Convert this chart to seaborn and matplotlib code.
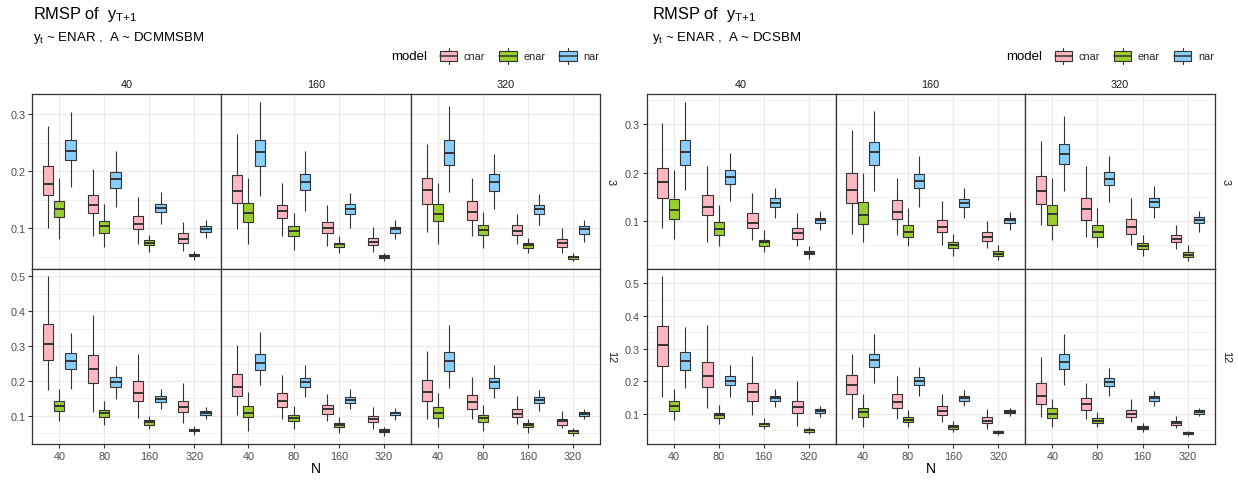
import numpy as np
import pandas as pd
import matplotlib
matplotlib.use("Agg")
import matplotlib.pyplot as plt
import seaborn as sns
from matplotlib.ticker import MultipleLocator, FuncFormatter
from matplotlib.legend_handler import HandlerBase
from matplotlib.patches import Rectangle, Patch
from matplotlib.lines import Line2D

# ---------------------------------------------------------------------------
# categories
N_LEVELS = ["40", "80", "160", "320"]
MODELS = ["cnar", "enar", "nar"]
COL_LEVELS = ["40", "160", "320"]
ROW_LEVELS = ["3", "12"]
PALETTE = {"cnar": "#FFB6C1", "enar": "#9ACD32", "nar": "#87CEFA"}

# five-number summaries (min, q1, median, q3, max) of RMSP, one tuple per N
# --- y_t ~ ENAR, A ~ DCMMSBM ---
dcmm_3_40 = {
    "cnar": [(0.100, 0.159, 0.178, 0.209, 0.280), (0.086, 0.126, 0.140, 0.158, 0.204),
             (0.072, 0.098, 0.107, 0.121, 0.155), (0.061, 0.074, 0.081, 0.091, 0.111)],
    "enar": [(0.082, 0.119, 0.134, 0.147, 0.188), (0.067, 0.092, 0.1035, 0.112, 0.142),
             (0.059, 0.071, 0.075, 0.080, 0.089), (0.045, 0.051, 0.0535, 0.055, 0.061)],
    "nar": [(0.173, 0.220, 0.236, 0.255, 0.304), (0.138, 0.171, 0.186, 0.198, 0.236),
            (0.107, 0.128, 0.136, 0.142, 0.164), (0.0835, 0.094, 0.099, 0.1035, 0.115)],
}
dcmm_3_160 = {
    "cnar": [(0.099, 0.145, 0.165, 0.193, 0.266), (0.087, 0.118, 0.131, 0.141, 0.179),
             (0.069, 0.091, 0.100, 0.111, 0.140), (0.059, 0.071, 0.0765, 0.0835, 0.102)],
    "enar": [(0.073, 0.111, 0.127, 0.1435, 0.189), (0.062, 0.087, 0.095, 0.1035, 0.127),
             (0.0565, 0.067, 0.072, 0.075, 0.086), (0.0435, 0.048, 0.0506, 0.053, 0.0565)],
    "nar": [(0.156, 0.209, 0.233, 0.255, 0.322), (0.131, 0.167, 0.182, 0.195, 0.235),
            (0.100, 0.125, 0.134, 0.142, 0.162), (0.081, 0.092, 0.099, 0.102, 0.114)],
}
dcmm_3_320 = {
    "cnar": [(0.094, 0.142, 0.167, 0.188, 0.247), (0.087, 0.115, 0.128, 0.147, 0.188),
             (0.073, 0.089, 0.095, 0.105, 0.125), (0.0576, 0.068, 0.075, 0.081, 0.100)],
    "enar": [(0.072, 0.113, 0.125, 0.142, 0.180), (0.066, 0.088, 0.0965, 0.105, 0.128),
             (0.0576, 0.066, 0.0706, 0.074, 0.0835), (0.0435, 0.047, 0.050, 0.052, 0.0565)],
    "nar": [(0.1635, 0.211, 0.232, 0.254, 0.315), (0.134, 0.166, 0.182, 0.195, 0.231),
            (0.106, 0.125, 0.133, 0.140, 0.161), (0.0765, 0.0906, 0.098, 0.1035, 0.114)],
}
dcmm_12_40 = {
    "cnar": [(0.173, 0.260, 0.305, 0.3635, 0.500), (0.110, 0.194, 0.235, 0.275, 0.390),
             (0.094, 0.144, 0.167, 0.200, 0.279), (0.081, 0.110, 0.125, 0.144, 0.194)],
    "enar": [(0.0865, 0.115, 0.129, 0.142, 0.177), (0.073, 0.098, 0.108, 0.117, 0.142),
             (0.0635, 0.075, 0.083, 0.0885, 0.100), (0.046, 0.056, 0.0606, 0.0635, 0.071)],
    "nar": [(0.177, 0.235, 0.258, 0.281, 0.338), (0.148, 0.183, 0.198, 0.2115, 0.244),
            (0.119, 0.1385, 0.148, 0.156, 0.177), (0.090, 0.102, 0.1087, 0.1135, 0.125)],
}
dcmm_12_160 = {
    "cnar": [(0.102, 0.156, 0.183, 0.219, 0.302), (0.092, 0.125, 0.144, 0.165, 0.217),
             (0.0846, 0.106, 0.119, 0.131, 0.1615), (0.0615, 0.0827, 0.092, 0.100, 0.125)],
    "enar": [(0.0577, 0.098, 0.1096, 0.127, 0.169), (0.0615, 0.0846, 0.094, 0.104, 0.129),
             (0.052, 0.069, 0.075, 0.081, 0.096), (0.0423, 0.053, 0.0577, 0.0615, 0.067)],
    "nar": [(0.190, 0.233, 0.252, 0.277, 0.340), (0.154, 0.183, 0.198, 0.2096, 0.246),
            (0.119, 0.1365, 0.146, 0.154, 0.177), (0.0885, 0.102, 0.107, 0.1115, 0.123)],
}
dcmm_12_320 = {
    "cnar": [(0.092, 0.142, 0.169, 0.202, 0.2865), (0.090, 0.121, 0.140, 0.160, 0.2115),
             (0.077, 0.096, 0.106, 0.121, 0.158), (0.0654, 0.075, 0.0846, 0.092, 0.115)],
    "enar": [(0.067, 0.094, 0.1096, 0.125, 0.165), (0.0577, 0.0827, 0.094, 0.104, 0.131),
             (0.052, 0.067, 0.073, 0.079, 0.092), (0.0423, 0.050, 0.0558, 0.0596, 0.0654)],
    "nar": [(0.181, 0.229, 0.258, 0.283, 0.360), (0.152, 0.181, 0.196, 0.208, 0.246),
            (0.115, 0.1365, 0.146, 0.154, 0.175), (0.090, 0.100, 0.1058, 0.1106, 0.121)],
}
# --- y_t ~ ENAR, A ~ DCSBM ---
dcsbm_3_40 = {
    "cnar": [(0.086, 0.148, 0.180, 0.210, 0.303), (0.056, 0.112, 0.130, 0.154, 0.213),
             (0.061, 0.085, 0.097, 0.1166, 0.158), (0.049, 0.064, 0.075, 0.086, 0.1166)],
    "enar": [(0.063, 0.104, 0.1235, 0.1455, 0.205), (0.049, 0.072, 0.0834, 0.0986, 0.133),
             (0.0366, 0.049, 0.056, 0.061, 0.082), (0.0228, 0.0324, 0.035, 0.039, 0.049)],
    "nar": [(0.165, 0.216, 0.242, 0.268, 0.347), (0.141, 0.176, 0.191, 0.206, 0.241),
            (0.107, 0.130, 0.137, 0.147, 0.169), (0.082, 0.096, 0.1028, 0.107, 0.1207)],
}
dcsbm_3_160 = {
    "cnar": [(0.074, 0.137, 0.165, 0.199, 0.289), (0.0724, 0.104, 0.118, 0.143, 0.1897),
             (0.050, 0.0766, 0.0876, 0.1028, 0.141), (0.0448, 0.0586, 0.067, 0.0766, 0.100)],
    "enar": [(0.056, 0.0945, 0.1124, 0.1386, 0.199), (0.049, 0.067, 0.078, 0.0917, 0.1276),
             (0.028, 0.0448, 0.0517, 0.0572, 0.074), (0.020, 0.027, 0.0324, 0.038, 0.0517)],
    "nar": [(0.162, 0.217, 0.2434, 0.263, 0.3276), (0.130, 0.169, 0.184, 0.1966, 0.234),
            (0.107, 0.129, 0.137, 0.1455, 0.1676), (0.082, 0.096, 0.1014, 0.107, 0.119)],
}
dcsbm_3_320 = {
    "cnar": [(0.092, 0.1345, 0.162, 0.1924, 0.2655), (0.067, 0.1014, 0.1248, 0.148, 0.2145),
             (0.0517, 0.074, 0.0876, 0.1055, 0.147), (0.0434, 0.056, 0.0628, 0.071, 0.0917)],
    "enar": [(0.061, 0.093, 0.114, 0.133, 0.1897), (0.046, 0.067, 0.078, 0.0917, 0.1276),
             (0.028, 0.042, 0.049, 0.0545, 0.0724), (0.0186, 0.0255, 0.031, 0.0366, 0.050)],
    "nar": [(0.162, 0.2186, 0.239, 0.2586, 0.3166), (0.140, 0.1745, 0.188, 0.2007, 0.234),
            (0.107, 0.130, 0.1386, 0.147, 0.1717), (0.078, 0.096, 0.1014, 0.108, 0.1207)],
}
dcsbm_12_40 = {
    "cnar": [(0.153, 0.2477, 0.311, 0.369, 0.5205), (0.1185, 0.184, 0.217, 0.260, 0.373),
             (0.098, 0.141, 0.1677, 0.1964, 0.2785), (0.065, 0.102, 0.1226, 0.141, 0.2005)],
    "enar": [(0.0815, 0.110, 0.1246, 0.139, 0.176), (0.069, 0.088, 0.096, 0.104, 0.1267),
             (0.053, 0.065, 0.069, 0.0733, 0.0877), (0.0405, 0.0467, 0.0508, 0.0549, 0.061)],
    "nar": [(0.180, 0.2354, 0.262, 0.2887, 0.3646), (0.151, 0.188, 0.2026, 0.215, 0.2497),
            (0.1205, 0.141, 0.149, 0.155, 0.178), (0.0918, 0.104, 0.110, 0.1144, 0.1246)],
}
dcsbm_12_160 = {
    "cnar": [(0.085, 0.160, 0.190, 0.220, 0.285), (0.085, 0.120, 0.138, 0.160, 0.215),
             (0.075, 0.098, 0.110, 0.125, 0.160), (0.055, 0.072, 0.080, 0.090, 0.115)],
    "enar": [(0.060, 0.090, 0.105, 0.120, 0.160), (0.060, 0.075, 0.083, 0.092, 0.112),
             (0.045, 0.055, 0.060, 0.066, 0.078), (0.035, 0.041, 0.044, 0.047, 0.052)],
    "nar": [(0.195, 0.245, 0.265, 0.285, 0.345), (0.155, 0.188, 0.200, 0.213, 0.245),
            (0.125, 0.141, 0.148, 0.155, 0.175), (0.095, 0.102, 0.107, 0.112, 0.120)],
}
dcsbm_12_320 = {
    "cnar": [(0.090, 0.130, 0.155, 0.195, 0.275), (0.085, 0.112, 0.130, 0.148, 0.195),
             (0.075, 0.090, 0.100, 0.112, 0.145), (0.058, 0.067, 0.073, 0.080, 0.095)],
    "enar": [(0.060, 0.088, 0.100, 0.118, 0.145), (0.060, 0.072, 0.080, 0.088, 0.105),
             (0.045, 0.053, 0.058, 0.063, 0.072), (0.033, 0.038, 0.042, 0.045, 0.048)],
    "nar": [(0.190, 0.238, 0.260, 0.285, 0.345), (0.155, 0.185, 0.197, 0.210, 0.240),
            (0.125, 0.140, 0.148, 0.155, 0.172), (0.095, 0.101, 0.106, 0.111, 0.120)],
}

PANELS = {
    ("DCMMSBM", "3", "40"): dcmm_3_40, ("DCMMSBM", "3", "160"): dcmm_3_160,
    ("DCMMSBM", "3", "320"): dcmm_3_320, ("DCMMSBM", "12", "40"): dcmm_12_40,
    ("DCMMSBM", "12", "160"): dcmm_12_160, ("DCMMSBM", "12", "320"): dcmm_12_320,
    ("DCSBM", "3", "40"): dcsbm_3_40, ("DCSBM", "3", "160"): dcsbm_3_160,
    ("DCSBM", "3", "320"): dcsbm_3_320, ("DCSBM", "12", "40"): dcsbm_12_40,
    ("DCSBM", "12", "160"): dcsbm_12_160, ("DCSBM", "12", "320"): dcsbm_12_320,
}

records = []
for (network, k, col), table in PANELS.items():
    for model in MODELS:
        for n, five in zip(N_LEVELS, table[model]):
            for v in five:
                records.append({"network": network, "k": k, "col": col,
                                "N": n, "model": model, "value": v})
df = pd.DataFrame(records)

# ---------------------------------------------------------------------------
sns.set_theme(style="white")
plt.rcParams["font.family"] = ["Liberation Sans", "DejaVu Sans"]
plt.rcParams["mathtext.default"] = "regular"

W, H = 1238, 481
fig = plt.figure(figsize=(W / 100, H / 100), dpi=100, facecolor="white")

EDGE = "#333333"
GRID = "#EBEBEB"
TICK_TXT = "#4D4D4D"
SMALL = 7.8
MEDIUM = 9.5


def fx(x):
    return x / W


def fy(y):
    return 1 - y / H


def px_axes(x0, y0, x1, y1):
    return fig.add_axes([fx(x0), fy(y1), (x1 - x0) / W, (y1 - y0) / H])


class BoxKey(HandlerBase):
    """Legend key drawn as a small boxplot glyph."""

    def create_artists(self, legend, orig_handle, xdescent, ydescent,
                       width, height, fontsize, trans):
        fc = orig_handle.get_facecolor()
        cx = -xdescent + width / 2
        bw = width
        bh = height * 0.66
        y0 = -ydescent + (height - bh) / 2
        whisk = height * 0.2
        rect = Rectangle((cx - bw / 2, y0), bw, bh, facecolor=fc,
                         edgecolor=EDGE, linewidth=0.8, transform=trans)
        med = Line2D([cx - bw / 2, cx + bw / 2], [y0 + bh / 2] * 2,
                     color=EDGE, linewidth=1.1, transform=trans)
        wt = Line2D([cx, cx], [y0 + bh, y0 + bh + whisk], color=EDGE,
                    linewidth=0.8, transform=trans)
        wb = Line2D([cx, cx], [y0 - whisk, y0], color=EDGE,
                    linewidth=0.8, transform=trans)
        return [wt, wb, rect, med]


charts = [
    ("DCMMSBM", [32.3, 221.3, 411.0, 600.0], 611.0, 33.0),
    ("DCSBM", [646.7, 835.7, 1025.3, 1214.7], 1226.0, 652.0),
]
row_edges = [94.7, 269.5, 445.0]

legends = []
for network, col_edges, strip_x, title_x in charts:
    for ri, k in enumerate(ROW_LEVELS):
        row_df = df[(df["network"] == network) & (df["k"] == k)]
        lo, hi = row_df["value"].min(), row_df["value"].max()
        pad = 0.05 * (hi - lo)
        for ci, col in enumerate(COL_LEVELS):
            ax = px_axes(col_edges[ci], row_edges[ri], col_edges[ci + 1], row_edges[ri + 1])
            ax.set_facecolor("white")
            sub = row_df[row_df["col"] == col]
            sns.boxplot(data=sub, x="N", y="value", hue="model",
                        order=N_LEVELS, hue_order=MODELS, palette=PALETTE,
                        saturation=1, width=0.75, gap=0.1, whis=np.inf,
                        linewidth=0.8, linecolor=EDGE,
                        medianprops={"linewidth": 1.4},
                        capprops={"visible": False},
                        legend=False, ax=ax)
            ax.set_xlim(-0.6, 3.6)
            ax.set_ylim(lo - pad, hi + pad)
            ax.set_xlabel("")
            ax.set_ylabel("")
            ax.yaxis.set_major_locator(MultipleLocator(0.1))
            ax.yaxis.set_minor_locator(MultipleLocator(0.05))
            ax.yaxis.set_major_formatter(FuncFormatter(lambda v, _: f"{v:.1f}"))
            ax.set_axisbelow(True)
            ax.grid(True, which="major", axis="both", color=GRID, linewidth=0.9)
            ax.grid(True, which="minor", axis="y", color=GRID, linewidth=0.45)
            for sp in ax.spines.values():
                sp.set_visible(True)
                sp.set_color(EDGE)
                sp.set_linewidth(0.9)
            ax.tick_params(axis="both", which="major", length=2.75, width=0.8,
                           color=EDGE, labelsize=SMALL, labelcolor=TICK_TXT, pad=2.2,
                           left=(ci == 0), labelleft=(ci == 0),
                           bottom=(ri == 1), labelbottom=(ri == 1))
            ax.tick_params(axis="y", which="minor", length=0)

            if ri == 0:
                cx = (col_edges[ci] + col_edges[ci + 1]) / 2
                fig.text(fx(cx), fy(88), col, ha="center", va="baseline",
                         fontsize=SMALL, color="#1A1A1A")
        cy = (row_edges[ri] + row_edges[ri + 1]) / 2
        fig.text(fx(strip_x), fy(cy), k, ha="center", va="center",
                 rotation=-90, fontsize=SMALL, color="#1A1A1A")

    # axis title
    mid = (col_edges[0] + col_edges[-1]) / 2
    fig.text(fx(mid), fy(469), "N", ha="center", va="center", fontsize=MEDIUM + 0.5,
             color="black")
    # titles
    fig.text(fx(title_x), fy(19.5), "RMSP of  $y_{T{+}1}$", ha="left",
             va="baseline", fontsize=11.8, color="black")
    fig.text(fx(title_x), fy(41), f"$y_t$ ~ ENAR ,  A ~ {network}", ha="left",
             va="baseline", fontsize=MEDIUM, color="black")
    # legend
    handles = [Patch(facecolor=PALETTE[m], edgecolor=EDGE) for m in MODELS]
    leg = fig.legend(handles, MODELS, loc="center right", ncol=3,
                     bbox_to_anchor=(fx(col_edges[-1] - 1), fy(57)), frameon=False,
                     fontsize=SMALL, handlelength=1.6, handleheight=1.8,
                     handletextpad=0.6, columnspacing=1.3, borderpad=0,
                     borderaxespad=0, handler_map={Patch: BoxKey()})
    legends.append(leg)

fig.canvas.draw()
renderer = fig.canvas.get_renderer()
for leg in legends:
    bb = leg.get_window_extent(renderer)
    x_left = bb.x0 / fig.dpi / fig.get_figwidth()
    fig.text(x_left - 13 / W, fy(57), "model", ha="right", va="center",
             fontsize=MEDIUM, color="black")

fig.savefig("out.png", dpi=100, facecolor="white")
